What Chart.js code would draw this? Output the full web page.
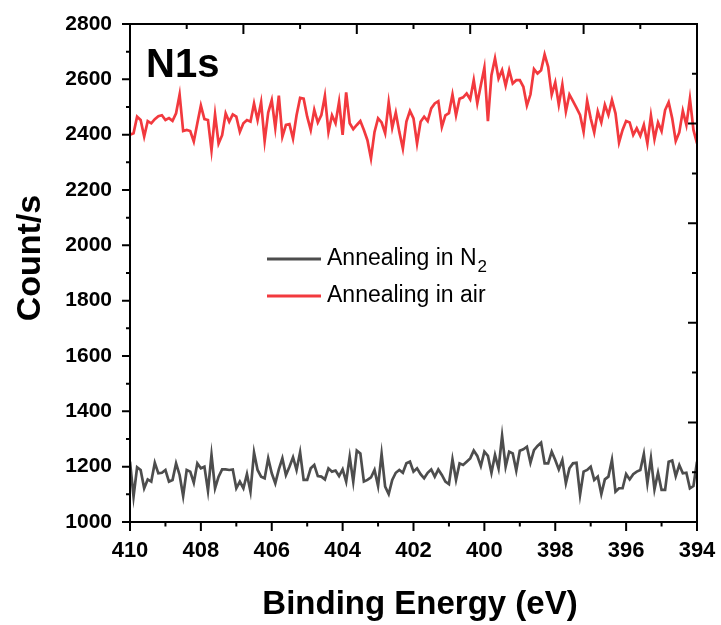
<!DOCTYPE html>
<html>
<head>
<meta charset="utf-8">
<title>N1s</title>
<script src="https://cdn.jsdelivr.net/npm/chart.js@4.4.1/dist/chart.umd.min.js"></script>
<style>
    html, body { margin: 0; padding: 0; background: #fff; }
    #wrap { width: 721px; height: 625px; position: relative; }
</style>
</head>
<body>
<div id="wrap"><canvas id="graficoN1s"></canvas></div>
<script>
// Dados (XPS N1s, passo 0.1 eV)
const energia = [
    410.0,409.9,409.8,409.7,409.6,409.5,409.4,409.3,409.2,409.1,
    409.0,408.9,408.8,408.7,408.6,408.5,408.4,408.3,408.2,408.1,
    408.0,407.9,407.8,407.7,407.6,407.5,407.4,407.3,407.2,407.1,
    407.0,406.9,406.8,406.7,406.6,406.5,406.4,406.3,406.2,406.1,
    406.0,405.9,405.8,405.7,405.6,405.5,405.4,405.3,405.2,405.1,
    405.0,404.9,404.8,404.7,404.6,404.5,404.4,404.3,404.2,404.1,
    404.0,403.9,403.8,403.7,403.6,403.5,403.4,403.3,403.2,403.1,
    403.0,402.9,402.8,402.7,402.6,402.5,402.4,402.3,402.2,402.1,
    402.0,401.9,401.8,401.7,401.6,401.5,401.4,401.3,401.2,401.1,
    401.0,400.9,400.8,400.7,400.6,400.5,400.4,400.3,400.2,400.1,
    400.0,399.9,399.8,399.7,399.6,399.5,399.4,399.3,399.2,399.1,
    399.0,398.9,398.8,398.7,398.6,398.5,398.4,398.3,398.2,398.1,
    398.0,397.9,397.8,397.7,397.6,397.5,397.4,397.3,397.2,397.1,
    397.0,396.9,396.8,396.7,396.6,396.5,396.4,396.3,396.2,396.1,
    396.0,395.9,395.8,395.7,395.6,395.5,395.4,395.3,395.2,395.1,
    395.0,394.9,394.8,394.7,394.6,394.5,394.4,394.3,394.2,394.1,
    394.0
];

const contagemN2 = [
    1218,1092,1198,1188,1122,1154,1146,1214,1176,1178,
    1188,1146,1152,1212,1170,1094,1188,1182,1142,1212,
    1194,1200,1113,1242,1122,1164,1190,1190,1188,1190,
    1122,1146,1122,1173,1110,1251,1188,1164,1158,1230,
    1176,1140,1190,1230,1170,1200,1234,1188,1252,1152,
    1152,1194,1206,1166,
    1164,1154,1194,1182,1186,1166,1190,1146,1236,1146,
    1258,1248,1146,1152,1161,1188,1130,1246,1128,1101,
    1152,1178,1188,1178,1212,1218,1182,1194,1173,1158,
    1178,1190,1164,1190,1170,1146,1137,1226,1152,1212,
    1206,1218,1230,1258,1239,1202,1254,1239,1178,1242,
    1194,
    1311,1200,1254,1248,1186,1258,1263,1272,1214,1260,
    1275,1287,1212,1212,1254,1224,1190,1224,1140,1194,
    1212,1214,1098,1182,1188,1200,1152,1164,1101,1154,
    1164,1224,1110,1122,1122,1173,1154,1173,1182,1188,
    1246,1140,1230,1118,1178,1116,1116,1218,1222,1166,
    1206,1176,1178,1122,1130,1218
];

const contagemAr = [
    2400,
    2405,2465,2453,2393,2449,2441,2456,2467,2470,2453,
    2460,2450,2477,2545,2413,2417,2413,2375,2441,2505,
    2456,2453,2344,2473,2368,2398,2477,2447,2473,2465,
    2410,2441,2453,2447,2513,2453,2517,2377,2480,2525,
    2425,2541,2393,2435,2438,2386,2470,2533,2530,2465,
    2417,2490,2444,
    2471,2540,2410,2470,2441,2519,2399,2553,2441,2420,
    2435,2449,2417,2380,2314,2410,2459,2444,2405,2517,
    2425,2480,2410,2350,2447,2486,2459,2368,2447,2465,
    2449,2495,2513,2521,2428,2470,2478,2545,2470,2530,
    2535,2549,2528,2597,2513,2579,2642,2449,2615,2676,
    2603,
    2633,2577,2633,2585,2597,2597,2573,2505,2545,2637,
    2621,2633,2690,2645,2545,2589,2508,2581,2484,2545,
    2521,2497,2471,2410,2523,2459,2408,2484,2444,2508,
    2471,2525,2477,2372,2417,2449,2444,2399,2423,2396,
    2435,2368,2469,2384,2444,2413,2489,2517,2459,2377,
    2408,2486,2435,2530,2417,2368
];

const rotulosSeries = ['Annealing in N_2', 'Annealing in air'];
const coresSeries = ['#4d4d4d', '#f2393e'];

// Eixos
const eixoX = { min: 394, max: 410, passo: 2, passoMenor: 1, titulo: 'Binding Energy (eV)' };
const eixoY = { min: 1000, max: 2800, passo: 200, passoMenor: 100, titulo: 'Count/s' };
const divisoesTopoDireita = 10;
const rotuloPainel = 'N1s';

const FONTE = '"Liberation Sans", Arial, sans-serif';

function pontos(valores) {
    return energia.map((e, i) => ({ x: e, y: valores[i] }));
}

// Moldura + marcas de escala (todos os lados, estilo Origin)
const molduraPlugin = {
    id: 'moldura',
    afterDraw(chart) {
        const { ctx, chartArea: a, scales } = chart;
        const sx = scales.x, sy = scales.y;
        ctx.save();
        ctx.strokeStyle = '#000';
        ctx.lineWidth = 2;
        ctx.strokeRect(a.left, a.top, a.right - a.left, a.bottom - a.top);

        ctx.beginPath();
        // inferior (para fora)
        for (let v = eixoX.min; v <= eixoX.max; v += eixoX.passoMenor) {
            const px = sx.getPixelForValue(v);
            const len = (v % eixoX.passo === 0) ? 9 : 4.5;
            ctx.moveTo(px, a.bottom);
            ctx.lineTo(px, a.bottom + len);
        }
        // esquerda (para fora)
        for (let v = eixoY.min; v <= eixoY.max; v += eixoY.passoMenor) {
            const py = sy.getPixelForValue(v);
            const len = (v % eixoY.passo === 0) ? 8 : 4;
            ctx.moveTo(a.left, py);
            ctx.lineTo(a.left - len, py);
        }
        // superior e direita (para dentro)
        for (let k = 0; k <= divisoesTopoDireita; k++) {
            const vx = eixoX.max - k * (eixoX.max - eixoX.min) / divisoesTopoDireita;
            const px = sx.getPixelForValue(vx);
            const lx = (k % 2 === 0) ? 10 : 5;
            ctx.moveTo(px, a.top);
            ctx.lineTo(px, a.top + lx);

            const vy = eixoY.min + k * (eixoY.max - eixoY.min) / divisoesTopoDireita;
            const py = sy.getPixelForValue(vy);
            const ly = (k % 2 === 0) ? 9 : 5;
            ctx.moveTo(a.right, py);
            ctx.lineTo(a.right - ly, py);
        }
        ctx.stroke();

        ctx.fillStyle = '#000';
        ctx.textBaseline = 'alphabetic';

        // títulos dos eixos
        ctx.font = 'bold 33px ' + FONTE;
        ctx.textAlign = 'center';
        ctx.fillText(eixoX.titulo, 420, 614);
        ctx.save();
        ctx.translate(40, 258);
        ctx.rotate(-Math.PI / 2);
        ctx.font = 'bold 34px ' + FONTE;
        ctx.fillText(eixoY.titulo, 0, 0);
        ctx.restore();

        // rótulo do painel
        ctx.textAlign = 'left';
        ctx.font = 'bold 40px ' + FONTE;
        ctx.fillText(rotuloPainel, a.left + 16, a.top + 53);

        // legenda
        const lx0 = 267, lx1 = 321, ly0 = 259, dy = 37;
        chart.data.datasets.forEach((ds, i) => {
            const y = ly0 + i * dy;
            ctx.strokeStyle = ds.borderColor;
            ctx.lineWidth = 3;
            ctx.beginPath();
            ctx.moveTo(lx0, y);
            ctx.lineTo(lx1, y);
            ctx.stroke();

            const partes = ds.label.split('_');
            ctx.fillStyle = '#000';
            ctx.font = '23px ' + FONTE;
            ctx.fillText(partes[0], lx1 + 6, y + 6);
            if (partes[1]) {
                const w = ctx.measureText(partes[0]).width;
                ctx.font = '17px ' + FONTE;
                ctx.fillText(partes[1], lx1 + 6 + w + 1, y + 13);
            }
        });
        ctx.restore();
    }
};

new Chart(document.getElementById('graficoN1s'), {
    type: 'line',
    data: {
        datasets: [
            {
                label: rotulosSeries[0],
                data: pontos(contagemN2),
                borderColor: coresSeries[0],
                borderWidth: 2.7,
                pointRadius: 0,
                tension: 0
            },
            {
                label: rotulosSeries[1],
                data: pontos(contagemAr),
                borderColor: coresSeries[1],
                borderWidth: 2.7,
                pointRadius: 0,
                tension: 0
            }
        ]
    },
    plugins: [molduraPlugin],
    options: {
        responsive: true,
        maintainAspectRatio: false,
        animation: false,
        devicePixelRatio: 1,
        layout: { padding: { top: 24, right: 24, left: 0, bottom: 0 } },
        plugins: {
            legend: { display: false },
            tooltip: { enabled: false }
        },
        scales: {
            x: {
                type: 'linear',
                reverse: true,
                min: eixoX.min,
                max: eixoX.max,
                afterFit: (s) => { s.height = 103; s.paddingLeft = 0; s.paddingRight = 0; },
                ticks: {
                    stepSize: eixoX.passo,
                    color: '#000',
                    padding: 16,
                    font: { family: FONTE, size: 22, weight: 'bold' }
                },
                grid: { display: true, drawOnChartArea: false, drawTicks: false },
                border: { display: false }
            },
            y: {
                type: 'linear',
                min: eixoY.min,
                max: eixoY.max,
                afterFit: (s) => { s.width = 130; s.paddingTop = 0; s.paddingBottom = 0; },
                ticks: {
                    stepSize: eixoY.passo,
                    color: '#000',
                    padding: 18,
                    callback: (v) => String(v),
                    font: { family: FONTE, size: 21, weight: 'bold' }
                },
                grid: { display: true, drawOnChartArea: false, drawTicks: false },
                border: { display: false }
            }
        }
    }
});
</script>
</body>
</html>
